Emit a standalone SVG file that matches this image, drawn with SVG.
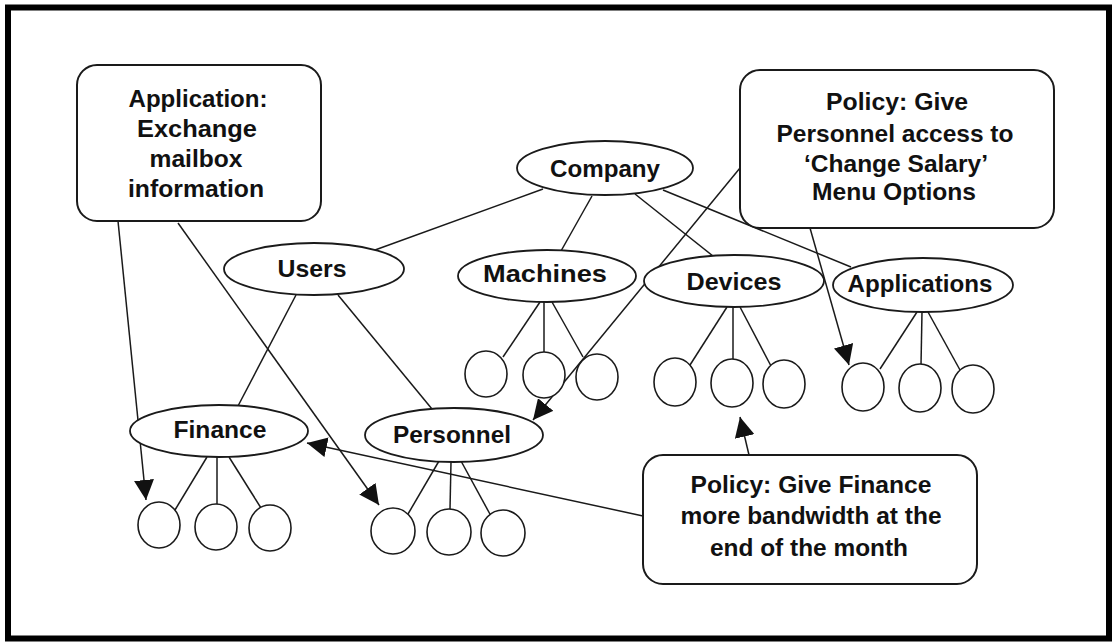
<svg xmlns="http://www.w3.org/2000/svg" width="1116" height="642" viewBox="0 0 1116 642">
  <style>
    .frame { fill: none; stroke: #000; stroke-width: 6; }
    .node { fill: #fff; stroke: #1a1a1a; stroke-width: 1.8; }
    .note { fill: #fff; stroke: #1a1a1a; stroke-width: 2; }
    .leaf { fill: #fff; stroke: #1a1a1a; stroke-width: 1.6; }
    .edge { fill: none; stroke: #1a1a1a; stroke-width: 1.5; }
    .ptr { fill: none; stroke: #1a1a1a; stroke-width: 1.5; marker-end: url(#head); }
    text { font-family: "Liberation Sans", Arial, sans-serif; font-size: 24px; font-weight: bold; fill: #111; text-anchor: middle; }
  </style>
  <defs>
    <marker id="head" viewBox="0 0 20 20" refX="20" refY="10" markerWidth="20" markerHeight="20" markerUnits="userSpaceOnUse" orient="auto">
      <path d="M0,0 L20,10 L0,20 z" fill="#111"/>
    </marker>
  </defs>

  <rect class="frame" x="8" y="7.5" width="1101" height="631"/>

  <!-- connectors: tree edges and annotation pointers -->
  <g id="connectors">
    <line class="edge" x1="543" y1="189" x2="375" y2="250"/>
    <line class="edge" x1="592" y1="196" x2="561" y2="251"/>
    <line class="edge" x1="635" y1="194" x2="713" y2="256"/>
    <line class="edge" x1="663" y1="190" x2="851" y2="267"/>
    <line class="edge" x1="296" y1="295" x2="238" y2="406"/>
    <line class="edge" x1="338" y1="295" x2="432" y2="409"/>

    <line class="edge" x1="207" y1="457" x2="175" y2="510"/>
    <line class="edge" x1="217" y1="457" x2="217" y2="504"/>
    <line class="edge" x1="229" y1="457" x2="261" y2="508"/>

    <line class="edge" x1="439" y1="461" x2="408" y2="514"/>
    <line class="edge" x1="451" y1="462" x2="450" y2="509"/>
    <line class="edge" x1="461" y1="461" x2="491" y2="516"/>

    <line class="edge" x1="540" y1="302" x2="503" y2="357"/>
    <line class="edge" x1="544" y1="302" x2="544" y2="352"/>
    <line class="edge" x1="552" y1="302" x2="583" y2="357"/>

    <line class="edge" x1="727" y1="307" x2="690" y2="365"/>
    <line class="edge" x1="733" y1="307" x2="733" y2="360"/>
    <line class="edge" x1="740" y1="307" x2="771" y2="366"/>

    <line class="edge" x1="917" y1="312" x2="880" y2="369"/>
    <line class="edge" x1="922" y1="312" x2="921" y2="365"/>
    <line class="edge" x1="928" y1="312" x2="960" y2="370"/>

    <line class="ptr" x1="118" y1="221" x2="146" y2="500"/>
    <line class="ptr" x1="178" y1="223" x2="379" y2="505"/>
    <line class="ptr" x1="740" y1="168" x2="533" y2="420"/>
    <line class="ptr" x1="810" y1="228" x2="849" y2="365"/>
    <line class="ptr" x1="643" y1="516" x2="307" y2="443"/>
    <line class="ptr" x1="749" y1="455" x2="740" y2="417"/>
  </g>

  <!-- annotation boxes -->
  <g id="note-exchange">
    <rect class="note" x="77" y="65" width="244" height="156" rx="20"/>
    <text x="198" y="107" textLength="139" lengthAdjust="spacingAndGlyphs">Application:</text>
    <text x="197" y="137" textLength="120" lengthAdjust="spacingAndGlyphs">Exchange</text>
    <text x="196" y="167" textLength="93" lengthAdjust="spacingAndGlyphs">mailbox</text>
    <text x="196" y="197" textLength="136" lengthAdjust="spacingAndGlyphs">information</text>
  </g>
  <g id="note-salary">
    <rect class="note" x="740" y="70" width="314" height="158" rx="20"/>
    <text x="897" y="110" textLength="142" lengthAdjust="spacingAndGlyphs">Policy: Give</text>
    <text x="895" y="142" textLength="237" lengthAdjust="spacingAndGlyphs">Personnel access to</text>
    <text x="896" y="172" textLength="184" lengthAdjust="spacingAndGlyphs">&#8216;Change Salary&#8217;</text>
    <text x="894" y="200" textLength="164" lengthAdjust="spacingAndGlyphs">Menu Options</text>
  </g>
  <g id="note-bandwidth">
    <rect class="note" x="643" y="455" width="334" height="129" rx="20"/>
    <text x="811" y="493" textLength="241" lengthAdjust="spacingAndGlyphs">Policy: Give Finance</text>
    <text x="811" y="524" textLength="261" lengthAdjust="spacingAndGlyphs">more bandwidth at the</text>
    <text x="809" y="556" textLength="198" lengthAdjust="spacingAndGlyphs">end of the month</text>
  </g>

  <!-- tree nodes -->
  <g id="company">
    <ellipse class="node" cx="605" cy="168" rx="88" ry="27"/>
    <text x="605" y="177" textLength="110" lengthAdjust="spacingAndGlyphs">Company</text>
  </g>
  <g id="users">
    <ellipse class="node" cx="314" cy="269" rx="90" ry="26"/>
    <text x="312" y="277" textLength="69" lengthAdjust="spacingAndGlyphs">Users</text>
  </g>
  <g id="machines">
    <ellipse class="node" cx="547" cy="276" rx="89" ry="26"/>
    <text x="545" y="282" textLength="124" lengthAdjust="spacingAndGlyphs">Machines</text>
  </g>
  <g id="devices">
    <ellipse class="node" cx="734" cy="281" rx="90" ry="26"/>
    <text x="734" y="290" textLength="95" lengthAdjust="spacingAndGlyphs">Devices</text>
  </g>
  <g id="applications">
    <ellipse class="node" cx="923" cy="285" rx="90" ry="27"/>
    <text x="920" y="292" textLength="145" lengthAdjust="spacingAndGlyphs">Applications</text>
  </g>
  <g id="finance">
    <ellipse class="node" cx="219" cy="431" rx="89" ry="26"/>
    <text x="220" y="438" textLength="93" lengthAdjust="spacingAndGlyphs">Finance</text>
  </g>
  <g id="personnel">
    <ellipse class="node" cx="454" cy="435" rx="89" ry="27"/>
    <text x="452" y="443" textLength="118" lengthAdjust="spacingAndGlyphs">Personnel</text>
  </g>

  <!-- leaf members -->
  <g id="finance-leaves">
    <ellipse class="leaf" cx="159" cy="525" rx="21" ry="23"/>
    <ellipse class="leaf" cx="216" cy="527" rx="21" ry="23"/>
    <ellipse class="leaf" cx="270" cy="528" rx="21" ry="23"/>
  </g>
  <g id="personnel-leaves">
    <ellipse class="leaf" cx="393" cy="531" rx="22" ry="23"/>
    <ellipse class="leaf" cx="449" cy="532" rx="22" ry="23"/>
    <ellipse class="leaf" cx="503" cy="533" rx="22" ry="23"/>
  </g>
  <g id="machines-leaves">
    <ellipse class="leaf" cx="486" cy="374" rx="21" ry="23"/>
    <ellipse class="leaf" cx="544" cy="375" rx="21" ry="23"/>
    <ellipse class="leaf" cx="597" cy="377" rx="21" ry="23"/>
  </g>
  <g id="devices-leaves">
    <ellipse class="leaf" cx="675" cy="382" rx="21" ry="24"/>
    <ellipse class="leaf" cx="732" cy="383" rx="21" ry="24"/>
    <ellipse class="leaf" cx="784" cy="384" rx="21" ry="24"/>
  </g>
  <g id="applications-leaves">
    <ellipse class="leaf" cx="863" cy="387" rx="21" ry="24"/>
    <ellipse class="leaf" cx="920" cy="388" rx="21" ry="24"/>
    <ellipse class="leaf" cx="973" cy="389" rx="21" ry="24"/>
  </g>
</svg>
